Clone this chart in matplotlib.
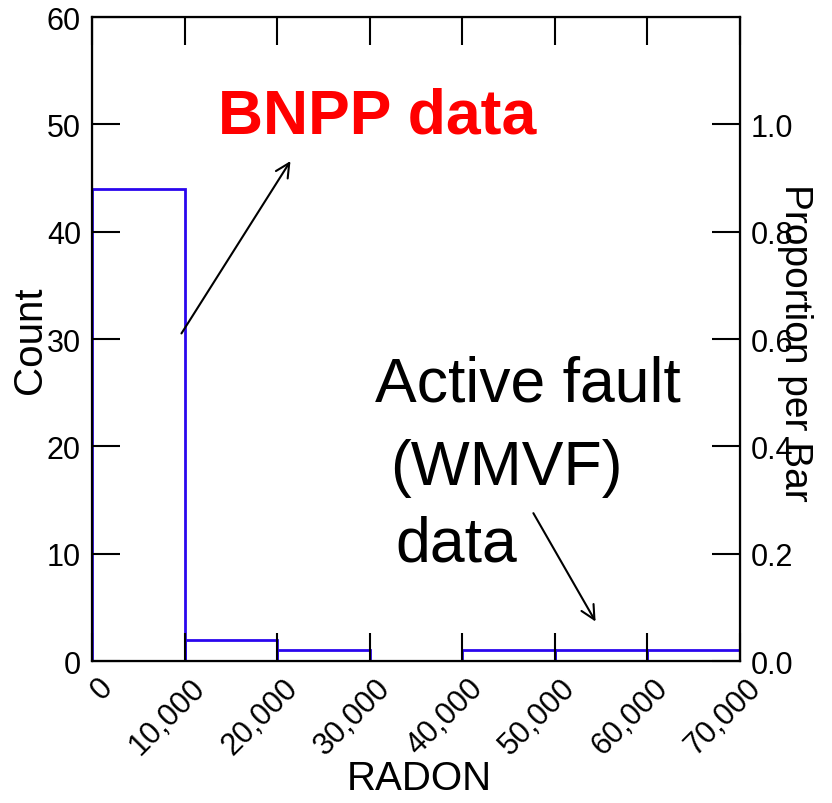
import numpy as np
from matplotlib import pyplot as plt
from matplotlib.ticker import FuncFormatter
from matplotlib.transforms import ScaledTranslation

# histogram of RADON values, bins of 10,000
bin_edges = [0, 10000, 20000, 30000, 40000, 50000, 60000, 70000]
counts = [44, 2, 1, 0, 1, 1, 1]
xticks = [0, 10000, 20000, 30000, 40000, 50000, 60000, 70000]
yticks = [0, 10, 20, 30, 40, 50, 60]
pticks = [0.0, 0.2, 0.4, 0.6, 0.8, 1.0]

blue = '#2a06ee'
plt.rcParams['font.family'] = ['Liberation Sans', 'DejaVu Sans']

fig = plt.figure(figsize=(8.32, 8.04), dpi=100)
ax = fig.add_axes([0.1106, 0.1766, 0.7788, 0.8010])

total = sum(counts)
ax.hist(bin_edges[:-1], bins=bin_edges, weights=counts,
        histtype='bar', fill=False, edgecolor=blue, linewidth=2)

ax.set_xlim(0, 70000)
ax.set_ylim(0, 60)
ax.set_xticks(xticks)
ax.set_yticks(yticks)
ax.xaxis.set_major_formatter(FuncFormatter(lambda v, p: '{:,}'.format(int(v))))
ax.tick_params(axis='both', direction='in', length=20, width=1.5,
               labelsize=22, pad=8)
ax.tick_params(axis='x', top=True, pad=8)
shift = ScaledTranslation(4 / 72, 0, fig.dpi_scale_trans)
for lbl in ax.get_xticklabels():
    lbl.set_rotation(45)
    lbl.set_ha('right')
    lbl.set_va('top')
    lbl.set_rotation_mode('anchor')
    lbl.set_transform(lbl.get_transform() + shift)
for s in ax.spines.values():
    s.set_linewidth(1.6)

ax.set_xlabel('RADON', fontsize=29)
ax.xaxis.set_label_coords(0.505, -0.152)
ax.set_ylabel('Count', fontsize=29)
ax.yaxis.set_label_coords(-0.066, 0.50)

ax2 = ax.twinx()
ax2.set_ylim(0, 60 / total)
ax2.set_yticks(pticks)
ax2.yaxis.set_major_formatter(FuncFormatter(lambda v, p: '%.1f' % v))
ax2.tick_params(axis='y', direction='in', length=20, width=1.5,
                labelsize=22, pad=8)
ax2.set_ylabel('Proportion per Bar', fontsize=28, rotation=270)
ax2.yaxis.set_label_coords(1.113, 0.495)

# annotations
ax.text(13600, 50.8, 'BNPP data', color='red', fontsize=45,
        fontweight='bold', va='center', ha='left')
ax.annotate('', xy=(21600, 46.8), xytext=(9500, 30.3),
            arrowprops=dict(arrowstyle='->', color='black', lw=1.5,
                            mutation_scale=25))
ax.text(30570, 25.8, 'Active fault', fontsize=45, va='center', ha='left')
ax.text(32190, 18.0, '(WMVF)', fontsize=45, va='center', ha='left')
ax.text(32730, 10.9, 'data', fontsize=45, va='center', ha='left')
ax.annotate('', xy=(54550, 3.45), xytext=(47530, 14.0),
            arrowprops=dict(arrowstyle='->', color='black', lw=1.5,
                            mutation_scale=25))

fig.savefig('out.png', dpi=100)
